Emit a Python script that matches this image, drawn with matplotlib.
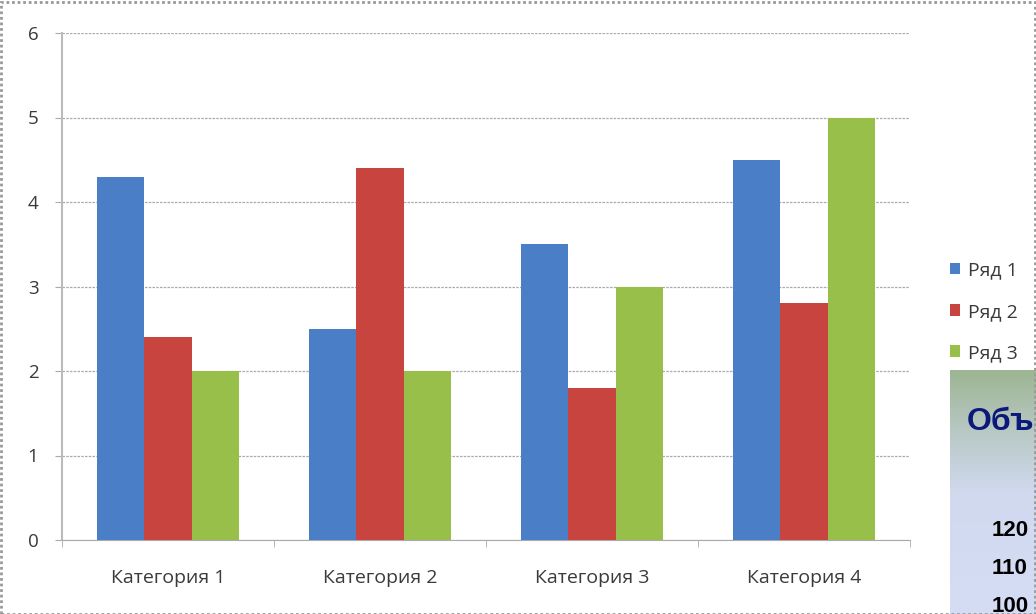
import matplotlib
matplotlib.use("Agg")
import matplotlib.pyplot as plt
import numpy as np
from matplotlib.patches import Rectangle
from matplotlib.colors import LinearSegmentedColormap

categories = ["Категория 1", "Категория 2", "Категория 3", "Категория 4"]
series_names = ["Ряд 1", "Ряд 2", "Ряд 3"]
row1 = [4.3, 2.5, 3.5, 4.5]
row2 = [2.4, 4.4, 1.8, 2.8]
row3 = [2.0, 2.0, 3.0, 5.0]
yticks = [0, 1, 2, 3, 4, 5, 6]
panel_title = "Объ"
panel_lines = ["120", "110", "100"]

colors = ["#4A7EC6", "#C8453F", "#97BF4A"]

plt.rcParams['font.family'] = ['Open Sans', 'DejaVu Sans']

W, H = 1036, 614
fig = plt.figure(figsize=(W / 100, H / 100), dpi=100)
fig.patch.set_facecolor("white")

ax = fig.add_axes([62 / W, 1 - 540 / H, 848 / W, 507 / H])
x = np.arange(len(categories))
bw = 0.222
for i, (vals, c, name) in enumerate(zip([row1, row2, row3], colors, series_names)):
    ax.bar(x + (i - 1) * bw, vals, bw, color=c, label=name, zorder=3)

ax.set_xlim(-0.5, 3.5)
ax.set_ylim(0, 6)
ax.set_yticks(yticks)
ax.set_yticklabels([str(v) for v in yticks], fontsize=13.5, color="#3a3a3a")
ax.set_xticks(x)
ax.set_xticklabels(categories, fontsize=14, color="#3a3a3a")
ax.tick_params(axis="x", length=0, pad=21)
ax.tick_params(axis="y", length=5, color="#aaaaaa", pad=12)
ax.set_xticks(np.arange(-0.5, 4.0, 1.0), minor=True)
ax.tick_params(axis="x", which="minor", length=5, color="#aaaaaa", direction="out")
ax.yaxis.grid(True, color="#aaaaaa", linestyle=(0, (2, 1)), linewidth=0.9, zorder=0)
for s in ["top", "right"]:
    ax.spines[s].set_visible(False)
ax.spines["left"].set_color("#bbbbbb")
ax.spines["bottom"].set_color("#aaaaaa")
ax.spines["left"].set_linewidth(1.5)

leg = ax.legend(loc="upper left", bbox_to_anchor=(932 / W, 1 - 244 / H),
                bbox_transform=fig.transFigure, frameon=False, fontsize=14,
                handlelength=0.55, handleheight=0.55, handletextpad=0.4,
                labelspacing=1.2)
for t in leg.get_texts():
    t.set_color("#3a3a3a")

# overlapping panel at bottom right
pax = fig.add_axes([950 / W, 0, (W - 950) / W, (614 - 370) / H])
cmap = LinearSegmentedColormap.from_list(
    "g", [(0, "#9db592"), (0.25, "#b8c8c4"), (0.5, "#d0d9ee"), (1.0, "#d4ddf4")])
grad = np.linspace(0, 1, 256).reshape(-1, 1)
pax.imshow(grad, aspect="auto", cmap=cmap, extent=[0, 1, 1, 0])
pax.set_xlim(0, 1)
pax.set_ylim(1, 0)
pax.axis("off")
pax.text(17 / 86, 52 / 244, panel_title, color="#0b1a7a", fontsize=23,
         fontweight="bold", family="Liberation Sans", va="center", ha="left")
for k, t in enumerate(panel_lines):
    pax.text(42 / 86, (161 + k * 38) / 244, t, color="black", fontsize=16,
             fontweight="bold", family="Liberation Sans", va="center",
             ha="left")

# dotted figure border
fig.add_artist(Rectangle((1 / W, 0), 1 - 2 / W, 1 - 2 / H, transform=fig.transFigure,
                         fill=False, edgecolor="#999999", linestyle=(0, (1, 1)),
                         linewidth=2))

fig.savefig("out.png", dpi=100)
